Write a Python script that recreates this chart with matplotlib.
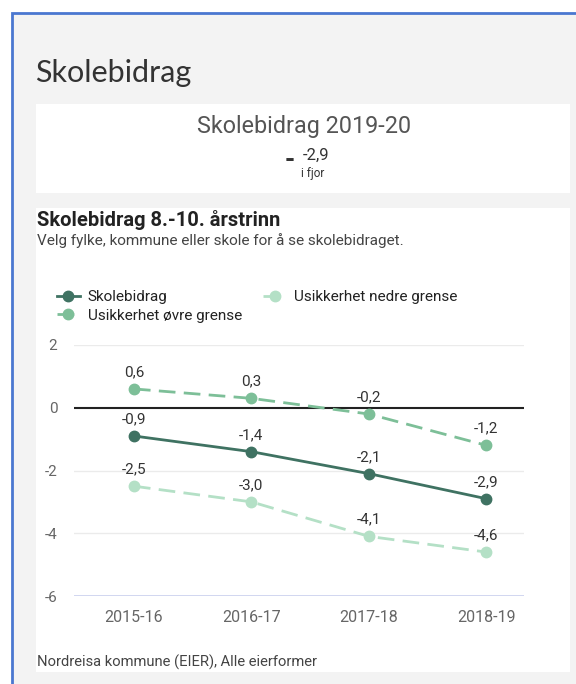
import matplotlib

matplotlib.use("Agg")
import matplotlib.pyplot as plt
from matplotlib.patches import Rectangle

W, H = 576, 684

# ---- data -----------------------------------------------------------------------
YEARS = ["2015-16", "2016-17", "2017-18", "2018-19"]
SKOLEBIDRAG = [-0.9, -1.4, -2.1, -2.9]
OVRE = [0.6, 0.3, -0.2, -1.2]
NEDRE = [-2.5, -3.0, -4.1, -4.6]
Y_TICKS = [2, 0, -2, -4, -6]

C_MAIN, C_OVRE, C_NEDRE = "#3f7262", "#7dbf98", "#b4e0c6"
TXT, DIM = "#333333", "#666666"
plt.rcParams["font.family"] = ["Roboto", "DejaVu Sans"]


def fx(x):
    return x / W


def fy(y):
    return 1 - y / H


def box(x0, y0, x1, y1):
    # pixel box -> [left, bottom, width, height] in figure fraction
    return [fx(x0), fy(y1), (x1 - x0) / W, (y1 - y0) / H]


def comma(v):
    return f"{v:.1f}".replace(".", ",")


fig = plt.figure(figsize=(W / 100, H / 100), dpi=100, facecolor="white")

# grey panel with blue frame, plus the two white cards (behind the axes)
fig.add_artist(Rectangle((fx(12), -0.1), 1, fy(13) + 0.1, transform=fig.transFigure,
                         facecolor="#f3f3f3", edgecolor="#4a77d0", lw=2,
                         zorder=-3))
for y0, y1 in [(104, 193), (208, 672)]:
    fig.add_artist(Rectangle((fx(36), fy(y1)), (570 - 36) / W, (y1 - y0) / H,
                             transform=fig.transFigure, facecolor="white",
                             edgecolor="none", zorder=-2))

fig.text(fx(35), fy(73), "Skolebidrag", family=["Lato", "DejaVu Sans"],
         fontsize=22, color=TXT, va="center")

# KPI card
fig.text(fx(304), fy(127), "Skolebidrag 2019-20", fontsize=16.8, color="#555555",
         ha="center", va="center")
fig.text(fx(290), fy(160), "-", fontsize=19, fontweight="bold", color=TXT,
         ha="center", va="center")
fig.text(fx(316), fy(155), comma(SKOLEBIDRAG[-1]), fontsize=12, color=TXT,
         ha="center", va="center")
fig.text(fx(313), fy(173), "i fjor", fontsize=8.5, color=TXT, ha="center",
         va="center")

# chart card headers
fig.text(fx(37), fy(220), "Skolebidrag 8.-10. årstrinn", fontsize=14.5,
         fontweight="semibold", color="#222222", va="center")
fig.text(fx(37), fy(241), "Velg fylke, kommune eller skole for å se skolebidraget.",
         fontsize=11, color="#444444", va="center")
fig.text(fx(37), fy(662), "Nordreisa kommune (EIER), Alle eierformer",
         fontsize=10.6, color="#444444", va="center")

# ---- line chart ------------------------------------------------------------------
ax = fig.add_axes(box(74, 345, 524, 596))
ax.set_facecolor("none")
x = list(range(len(YEARS)))
l_main, = ax.plot(x, SKOLEBIDRAG, color=C_MAIN, lw=2, marker="o", ms=7.5,
                  label="Skolebidrag", zorder=4)
l_ovre, = ax.plot(x, OVRE, color=C_OVRE, lw=2, ls=(0, (6, 3)), marker="o", ms=7.5,
                  label="Usikkerhet øvre grense", zorder=3)
l_nedre, = ax.plot(x, NEDRE, color=C_NEDRE, lw=2, ls=(0, (6, 3)), marker="o", ms=7.5,
                   label="Usikkerhet nedre grense", zorder=3)

for series in (SKOLEBIDRAG, OVRE, NEDRE):
    for xi, v in zip(x, series):
        ax.annotate(comma(v), (xi, v), xytext=(0, 7), textcoords="offset points",
                    ha="center", va="bottom", fontsize=11, color=TXT, zorder=5)

ax.set_ylim(-6, 2)
ax.set_xlim(-0.51, 3.32)
ax.set_yticks(Y_TICKS)
ax.set_yticklabels([str(t) for t in Y_TICKS], fontsize=11, color=DIM)
ax.set_xticks(x)
ax.set_xticklabels(YEARS, fontsize=11.5, color=DIM)
ax.tick_params(length=0, axis="y", pad=12)
ax.tick_params(length=0, axis="x", pad=10)
for s in ax.spines.values():
    s.set_visible(False)
for t in Y_TICKS:
    if t == 0:
        ax.axhline(t, color="#222222", lw=1.5, zorder=2)
    elif t == -6:
        ax.axhline(t, color="#c9d0ee", lw=1.2, zorder=1)
    else:
        ax.axhline(t, color="#ebebeb", lw=1, zorder=1)

fig.legend(handles=[l_main, l_ovre, l_nedre], loc="upper left", ncol=2,
           bbox_to_anchor=(fx(57), fy(290)), frameon=False, fontsize=11,
           handlelength=1.5, handletextpad=0.5, columnspacing=1.4,
           labelspacing=0.3, labelcolor="#222222", borderaxespad=0,
           borderpad=0)

fig.savefig("out.png", dpi=100, facecolor="white")
